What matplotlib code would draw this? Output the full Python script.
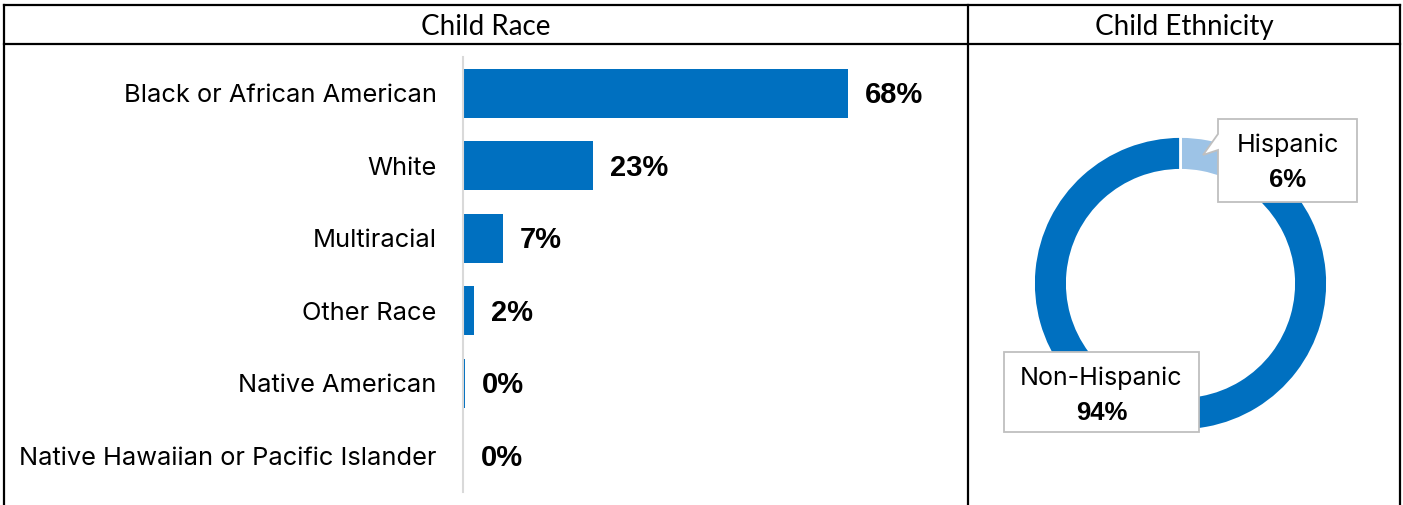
import matplotlib.pyplot as plt
from matplotlib.lines import Line2D
from matplotlib.patches import Polygon

# Child race breakdown (percent of children)
races = ['Black or African American', 'White', 'Multiracial', 'Other Race',
         'Native American', 'Native Hawaiian or Pacific Islander']
race_pct = [68, 23, 7, 2, 0.4, 0.2]
race_colors = ['#0070C0', '#0070C0', '#0070C0', '#0070C0', '#0070C0', '#BDD7EE']

# Child ethnicity breakdown
ethnicities = ['Hispanic', 'Non-Hispanic']
eth_pct = [6, 94]
eth_colors = ['#9DC3E6', '#0070C0']

W, H = 1403, 505
fig = plt.figure(figsize=(W / 100, H / 100), dpi=100)


def fx(x):
    return x / W


def fy(y):
    return 1 - y / H


def box(left, top, right, bottom):
    return [fx(left), fy(bottom), (right - left) / W, (bottom - top) / H]


# table grid around the two panels
grid = dict(color='black', lw=1.6, solid_capstyle='projecting')
for (x0, y0), (x1, y1) in [((4, 5), (1400, 5)), ((4, 44), (1400, 44)),
                           ((4, 5), (4, 505)), ((968, 5), (968, 505)),
                           ((1400, 5), (1400, 505))]:
    fig.add_artist(Line2D([fx(x0), fx(x1)], [fy(y0), fy(y1)],
                          transform=fig.transFigure, **grid))

head_font = dict(family='Lato', fontsize=20, ha='center', va='center')
fig.text(fx(486), fy(27), 'Child Race', **head_font)
fig.text(fx(1184), fy(27), 'Child Ethnicity', **head_font)

# --- horizontal bars ---
ax = fig.add_axes(box(463, 57, 948, 492))
pos = list(range(len(races)))
ax.barh(pos, race_pct, height=0.67, color=race_colors)
ax.set_ylim(len(races) - 0.5, -0.5)
ax.set_xlim(0, 85.7)
ax.set_yticks(pos)
ax.set_yticklabels(races, family='Inter', fontsize=18.3)
ax.tick_params(axis='y', length=0, pad=19)
ax.set_xticks([])
for s in ['top', 'right', 'bottom']:
    ax.spines[s].set_visible(False)
ax.spines['left'].set_color('#D9D9D9')
ax.spines['left'].set_linewidth(1.5)
for i, v in enumerate(race_pct):
    ax.annotate(f'{v:.0f}%', (v, i), xytext=(12, -1.5), textcoords='offset points',
                va='center', ha='left', family='Liberation Sans',
                fontweight='bold', fontsize=21)

# --- donut ---
cx, cy, r_px = 1180.5, 283.5, 147
half = 200
ax2 = fig.add_axes(box(cx - half, cy - half, cx + half, cy + half))
lim = half / r_px
ax2.pie(eth_pct, colors=eth_colors, radius=1, startangle=90,
        counterclock=False,
        wedgeprops=dict(width=0.23, edgecolor='white', linewidth=2))
ax2.set_xlim(-lim, lim)
ax2.set_ylim(-lim, lim)
ax2.set_aspect('equal')
ax2.axis('off')


def callout(left, top, right, bottom, name, pct, tail=None):
    pts = [(left, top), (right, top), (right, bottom), (left, bottom)]
    if tail:
        pts += tail
    poly = Polygon([(fx(x), fy(y)) for x, y in pts], closed=True,
                   transform=fig.transFigure, facecolor='white',
                   edgecolor='#BFBFBF', lw=1.3, zorder=5)
    fig.add_artist(poly)
    mid = (left + right) / 2
    fig.text(fx(mid), fy(top + 26), name, family='Inter', fontsize=18,
             ha='center', va='center', zorder=6)
    fig.text(fx(mid), fy(top + 61), f'{pct}%', family='Liberation Sans',
             fontweight='bold', fontsize=18.5, ha='center', va='center', zorder=6)


callout(1218, 119, 1357, 202, ethnicities[0], eth_pct[0],
        tail=[(1218, 150), (1203, 155), (1218, 134)])
callout(1004, 352, 1199, 432, ethnicities[1], eth_pct[1])

fig.savefig('out.png', dpi=100, facecolor='white')
